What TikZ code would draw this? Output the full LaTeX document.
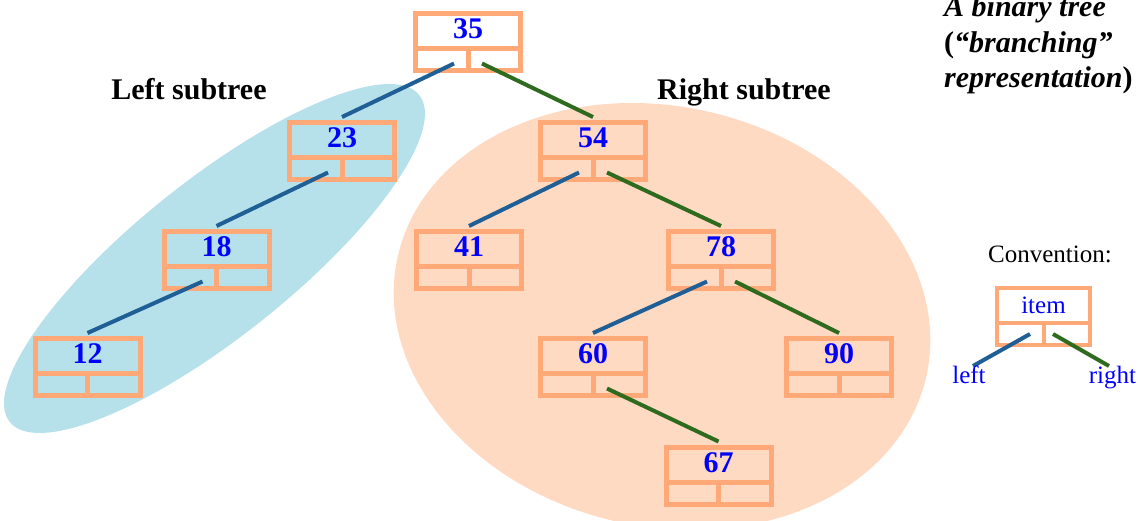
\documentclass[tikz,border=0pt]{standalone}
\usepackage{fontspec}
\setmainfont{Liberation Serif}
\definecolor{boxc}{HTML}{FFA878}
\definecolor{lfill}{HTML}{B6E1EB}
\definecolor{rfill}{HTML}{FFDAC3}
\definecolor{lline}{HTML}{1F5F95}
\definecolor{rline}{HTML}{2F6B1F}
\definecolor{numc}{HTML}{0000FF}
\newcommand\ledge[2]{\draw[leftedge] ([xshift=-14pt,yshift=9.5pt]#1.south) -- ([yshift=3pt]#2.north);}
\newcommand\redge[2]{\draw[rightedge] ([xshift=14pt,yshift=9.5pt]#1.south) -- ([yshift=3pt]#2.north);}
\begin{document}
\begin{tikzpicture}[x=1pt,y=-1pt,
  treenode/.style={draw=boxc, line width=5pt, minimum width=105pt, minimum height=57pt,
    inner sep=0pt, text=numc, font=\bfseries\fontsize{30}{30}\selectfont,
    text height=20pt, text depth=27pt,
    path picture={\draw[boxc, line width=5pt]
      ([yshift=22pt]path picture bounding box.south west) -- ([yshift=22pt]path picture bounding box.south east)
      ([yshift=22pt]path picture bounding box.south) -- (path picture bounding box.south);}},
  convnode/.style={draw=boxc, line width=4pt, minimum width=93pt, minimum height=57pt,
    inner sep=0pt, text=numc, font=\fontsize{25}{25}\selectfont,
    text height=17pt, text depth=24pt,
    path picture={\draw[boxc, line width=4pt]
      ([yshift=22pt]path picture bounding box.south west) -- ([yshift=22pt]path picture bounding box.south east)
      ([yshift=22pt]path picture bounding box.south) -- (path picture bounding box.south);}},
  leftedge/.style={draw=lline, line width=4pt},
  rightedge/.style={draw=rline, line width=4pt},
  sublbl/.style={anchor=base, inner sep=0pt, font=\bfseries\fontsize{30}{30}\selectfont},
  titlelbl/.style={anchor=base west, inner sep=0pt, font=\bfseries\fontsize{30}{30}\selectfont},
  convlbl/.style={anchor=base, inner sep=0pt, font=\fontsize{25}{25}\selectfont}
]
\useasboundingbox (0,0) rectangle (1148,520);

% subtree regions
\fill[lfill, rotate around={38.6:(214.5,258.5)}] (214.5,258.5) ellipse [x radius=262pt, y radius=78pt];
\fill[rfill, rotate around={-12.9:(662,316.5)}] (662,316.5) ellipse [x radius=271pt, y radius=210pt];

% tree nodes
\node[treenode] (n35) at (468,42) {35};
\node[treenode] (n23) at (342,151) {23};
\node[treenode] (n54) at (593,151) {54};
\node[treenode] (n18) at (216.5,260) {18};
\node[treenode] (n41) at (469,260) {41};
\node[treenode] (n78) at (721,260) {78};
\node[treenode] (n12) at (87.5,367) {12};
\node[treenode] (n60) at (593,367) {60};
\node[treenode] (n90) at (839,367) {90};
\node[treenode] (n67) at (718.5,475.5) {67};

% connectors
\ledge{n35}{n23}
\redge{n35}{n54}
\ledge{n23}{n18}
\ledge{n18}{n12}
\ledge{n54}{n41}
\redge{n54}{n78}
\ledge{n78}{n60}
\redge{n78}{n90}
\redge{n60}{n67}

% labels
\node[sublbl] (lsub) at (189,99) {Left subtree};
\node[sublbl] (rsub) at (744,99) {Right subtree};
\node[titlelbl] (t1) at (944,16) {\itshape A binary tree};
\node[titlelbl] (t2) at (944,52) {({\itshape “branching”}};
\node[titlelbl] (t3) at (944,87) {{\itshape representation})};

% convention
\node[convlbl] (conv) at (1050,262) {Convention:};
\node[convnode] (item) at (1043.5,316.5) {item};
\coordinate (lend) at (973,366);
\coordinate (rend) at (1109,366);
\draw[leftedge] ([xshift=-13.5pt,yshift=13pt]item.south) -- (lend);
\draw[rightedge] ([xshift=9.5pt,yshift=13pt]item.south) -- (rend);
\node[convlbl, text=numc] (lefttxt) at (969,383) {left};
\node[convlbl, text=numc] (righttxt) at (1112.5,383) {right};
\end{tikzpicture}
\end{document}
